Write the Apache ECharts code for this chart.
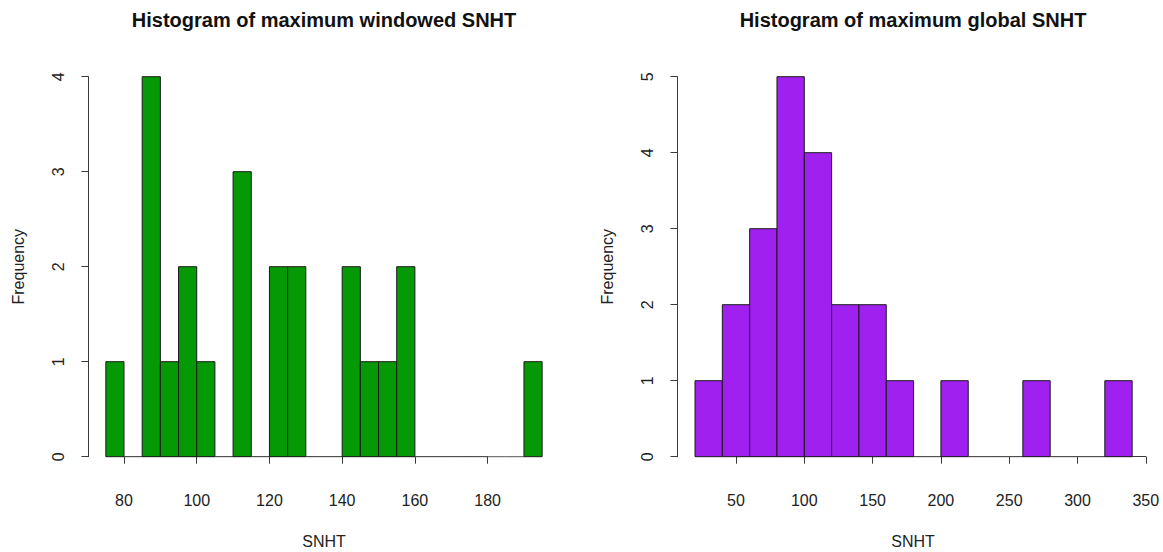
<!DOCTYPE html>
<html>
<head>
<meta charset="utf-8">
<title>Histograms of maximum SNHT</title>
<script src="https://cdn.jsdelivr.net/npm/echarts@6/dist/echarts.min.js"></script>
<style>
  html, body { margin: 0; padding: 0; background: #ffffff; }
  #chart { width: 1163px; height: 552px; }
</style>
</head>
<body>
<div id="chart"></div>
<script>
// Windowed SNHT maxima: bin edges and counts per bin
const windowedBreaks = [75, 80, 85, 90, 95, 100, 105, 110, 115, 120, 125, 130, 135,
                        140, 145, 150, 155, 160, 165, 170, 175, 180, 185, 190, 195];
const windowedCounts = [1, 0, 4, 1, 2, 1, 0, 3, 0, 2, 2, 0, 0,
                        2, 1, 1, 2, 0, 0, 0, 0, 0, 0, 1];
const windowedXTicks = [80, 100, 120, 140, 160, 180];
const windowedYTicks = [0, 1, 2, 3, 4];

// Global SNHT maxima: bin edges and counts per bin
const globalBreaks = [20, 40, 60, 80, 100, 120, 140, 160, 180, 200, 220, 240, 260, 280, 300, 320, 340];
const globalCounts = [1, 2, 3, 5, 4, 2, 2, 1, 0, 1, 0, 0, 1, 0, 0, 1];
const globalXTicks = [50, 100, 150, 200, 250, 300, 350];
const globalYTicks = [0, 1, 2, 3, 4, 5];

const titles = ['Histogram of maximum windowed SNHT', 'Histogram of maximum global SNHT'];
const xLabel = 'SNHT';
const yLabel = 'Frequency';

const FONT = '"Liberation Sans", Arial, Helvetica, sans-serif';
const GREEN = '#069906';
const PURPLE = '#a020f0';
const INK = '#222222';
const AXIS = '#3a3a3a';

function binsOf(breaks, counts) {
  return counts.map((c, i) => [breaks[i], breaks[i + 1], c]);
}

function histItem(fill) {
  return function (params, api) {
    const x0 = api.value(0), x1 = api.value(1), n = api.value(2);
    const p0 = api.coord([x0, 0]);
    const p1 = api.coord([x1, n]);
    if (n === 0) {
      return {
        type: 'line',
        shape: { x1: p0[0], y1: p0[1], x2: p1[0], y2: p0[1] },
        style: { stroke: '#555555', lineWidth: 1 }
      };
    }
    return {
      type: 'rect',
      shape: { x: p0[0], y: p1[1], width: p1[0] - p0[0], height: p0[1] - p1[1] },
      style: { fill: fill, stroke: '#1a1a1a', lineWidth: 1 }
    };
  };
}

function xAxisFor(gridIndex, ticks, offset) {
  return {
    type: 'value', gridIndex: gridIndex,
    min: ticks[0], max: ticks[ticks.length - 1],
    interval: ticks[1] - ticks[0],
    position: 'bottom', offset: offset,
    axisLine: { show: true, lineStyle: { color: AXIS, width: 1 } },
    axisTick: { show: true, length: 7, inside: false, lineStyle: { color: AXIS, width: 1 } },
    axisLabel: { show: true, color: INK, fontSize: 16, fontFamily: FONT, margin: 21 },
    splitLine: { show: false }
  };
}

function yAxisFor(gridIndex, ticks, offset) {
  return {
    type: 'value', gridIndex: gridIndex,
    min: ticks[0], max: ticks[ticks.length - 1],
    interval: ticks[1] - ticks[0],
    position: 'left', offset: offset,
    name: yLabel, nameLocation: 'middle', nameRotate: 90, nameGap: 62,
    nameTextStyle: { color: INK, fontSize: 16, fontFamily: FONT },
    axisLine: { show: true, lineStyle: { color: AXIS, width: 1 } },
    axisTick: { show: true, length: 7, inside: false, lineStyle: { color: AXIS, width: 1 } },
    axisLabel: { show: true, color: INK, fontSize: 16, fontFamily: FONT, rotate: 90, margin: 22 },
    splitLine: { show: false }
  };
}

const chart = echarts.init(document.getElementById('chart'), null, { renderer: 'svg' });

const titleStyle = { fontSize: 20, fontWeight: 'bold', color: '#111', fontFamily: FONT };
const xLabelStyle = { fontSize: 16, fontWeight: 'normal', color: INK, fontFamily: FONT };

const option = {
  backgroundColor: '#ffffff',
  animation: false,
  title: [
    { text: titles[0], left: 324, top: 10, padding: 0, textAlign: 'center', textStyle: titleStyle },
    { text: titles[1], left: 913, top: 10, padding: 0, textAlign: 'center', textStyle: titleStyle },
    { text: xLabel, left: 324, top: 533, padding: 0, textAlign: 'center', textStyle: xLabelStyle },
    { text: xLabel, left: 913, top: 533, padding: 0, textAlign: 'center', textStyle: xLabelStyle }
  ],
  grid: [
    { left: 124, top: 76.7, width: 363.6, height: 380 },
    { left: 736, top: 76.7, width: 409.8, height: 380 }
  ],
  xAxis: [
    xAxisFor(0, windowedXTicks, 15.2),
    xAxisFor(1, globalXTicks, 15.2)
  ],
  yAxis: [
    yAxisFor(0, windowedYTicks, 35.6),
    yAxisFor(1, globalYTicks, 58.5)
  ],
  series: [
    {
      type: 'custom', xAxisIndex: 0, yAxisIndex: 0, clip: false,
      renderItem: histItem(GREEN),
      encode: { x: [0, 1], y: 2 },
      data: binsOf(windowedBreaks, windowedCounts)
    },
    {
      type: 'custom', xAxisIndex: 1, yAxisIndex: 1, clip: false,
      renderItem: histItem(PURPLE),
      encode: { x: [0, 1], y: 2 },
      data: binsOf(globalBreaks, globalCounts)
    }
  ]
};

chart.setOption(option);
</script>
</body>
</html>
